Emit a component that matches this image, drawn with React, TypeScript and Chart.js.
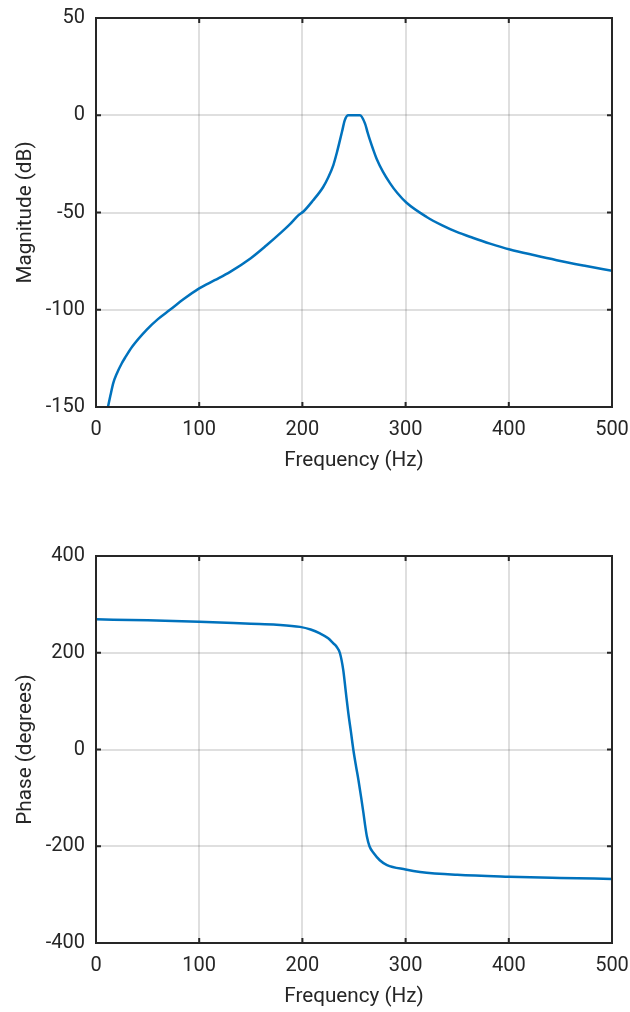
import React, { useEffect, useRef } from "react";
import { Chart, registerables } from "chart.js";

Chart.register(...registerables);

// Magnitude response (Hz, dB)
const magFreq = [11.6, 14, 16.8, 20, 25, 28, 35, 49, 60, 71.7, 85, 100, 115, 130, 150, 165, 180, 188, 196, 201, 210, 220, 225, 230, 233.5, 236.4, 238.8, 241, 244.5, 250, 255.8, 260.7, 263, 265.5, 268.5, 272, 278, 285, 292, 300.9, 320.4, 335, 349.5, 365, 381.8, 401, 425, 446.4, 475, 500];
const magDb = [-150, -144, -137.6, -133, -127.5, -124.8, -119, -110.3, -104.8, -100, -94.5, -89, -84.8, -80.5, -73.5, -67, -60, -56, -51.5, -49.5, -44, -37, -32, -25.6, -19, -12.8, -7.5, -2.6, 0, 0, 0, -4.3, -8.5, -12.8, -17.5, -22.5, -29, -35, -40, -45, -52.3, -56.5, -60, -63, -66, -69, -72, -74.5, -77.5, -80];

// Phase response (Hz, degrees)
const phFreq = [0, 50, 100, 150, 175, 197.7, 208, 217, 225, 230, 233, 236.4, 239.6, 242, 244.5, 247, 249.4, 252, 254.3, 257, 259.2, 261, 262.5, 265, 269, 275, 282, 300, 314, 350, 400, 450, 500];
const phDeg = [269, 267, 264, 260, 258, 253.5, 248, 240, 230, 219.4, 213, 199, 164, 120, 75, 37, -1, -35, -63, -100, -132, -160, -180, -200, -214, -229, -239, -248, -253, -259, -263, -265.5, -267.5];

const xTicks = [0, 100, 200, 300, 400, 500];
const magTicks = [-150, -100, -50, 0, 50];
const phTicks = [-400, -200, 0, 200, 400];

const TXT = "#262626";
const LINE = "#0072BD";

const boxPlugin = {
  id: "matlabBox",
  afterDatasetsDraw(chart: any) {
    const { ctx, chartArea: a, scales } = chart;
    ctx.save();
    ctx.strokeStyle = TXT;
    ctx.lineWidth = 2;
    const tl = 5;
    ctx.beginPath();
    scales.x.ticks.forEach((t: any) => {
      const px = scales.x.getPixelForValue(t.value);
      ctx.moveTo(px, a.bottom);
      ctx.lineTo(px, a.bottom - tl);
      ctx.moveTo(px, a.top);
      ctx.lineTo(px, a.top + tl);
    });
    scales.y.ticks.forEach((t: any) => {
      const py = scales.y.getPixelForValue(t.value);
      ctx.moveTo(a.left, py);
      ctx.lineTo(a.left + tl, py);
      ctx.moveTo(a.right, py);
      ctx.lineTo(a.right - tl, py);
    });
    ctx.stroke();
    ctx.strokeRect(a.left, a.top, a.right - a.left, a.bottom - a.top);
    ctx.restore();
  },
};

function makeConfig(xs: number[], ys: number[], yTicks: number[], yTitle: string, padBottom: number): any {
  const tickFont = { family: "Roboto", size: 20 };
  const titleFont = { family: "Roboto", size: 20.7 };
  const step = yTicks[1] - yTicks[0];
  return {
    type: "line",
    data: {
      datasets: [
        {
          data: xs.map((x, i) => ({ x, y: ys[i] })),
          borderColor: LINE,
          borderWidth: 2.5,
          pointRadius: 0,
          fill: false,
          cubicInterpolationMode: "monotone",
        },
      ],
    },
    options: {
      responsive: false,
      maintainAspectRatio: false,
      animation: false,
      layout: { padding: { left: 0, top: 18, right: 18, bottom: padBottom } },
      plugins: { legend: { display: false }, tooltip: { enabled: false } },
      scales: {
        x: {
          type: "linear",
          min: xTicks[0],
          max: xTicks[xTicks.length - 1],
          afterBuildTicks: (s: any) => {
            s.ticks = xTicks.map((v) => ({ value: v }));
          },
          ticks: { font: tickFont, color: TXT, padding: 11, maxRotation: 0, stepSize: 100 },
          grid: { color: "rgba(38,38,38,0.15)", lineWidth: 2, drawTicks: false },
          border: { display: false },
          title: { display: true, text: "Frequency (Hz)", font: titleFont, color: TXT, padding: { top: 0, bottom: 0 } },
          afterFit: (s: any) => {
            s.height = 66;
            s.paddingLeft = 0;
            s.paddingRight = 0;
          },
        },
        y: {
          type: "linear",
          min: yTicks[0],
          max: yTicks[yTicks.length - 1],
          afterBuildTicks: (s: any) => {
            s.ticks = yTicks.map((v) => ({ value: v }));
          },
          ticks: { font: tickFont, color: TXT, padding: 11, stepSize: step },
          grid: { color: "rgba(38,38,38,0.15)", lineWidth: 2, drawTicks: false },
          border: { display: false },
          title: { display: true, text: yTitle, font: titleFont, color: TXT, padding: { top: 13, bottom: 0 } },
          afterFit: (s: any) => {
            s.width = 96;
            s.paddingTop = 0;
            s.paddingBottom = 0;
          },
        },
      },
    },
    plugins: [boxPlugin],
  };
}

function Plot(props: { top: number; height: number; xs: number[]; ys: number[]; yTicks: number[]; yTitle: string; padBottom: number }) {
  const ref = useRef<HTMLCanvasElement>(null);
  useEffect(() => {
    if (!ref.current) return;
    const chart = new Chart(ref.current, makeConfig(props.xs, props.ys, props.yTicks, props.yTitle, props.padBottom));
    return () => chart.destroy();
  }, []);
  return (
    <canvas
      ref={ref}
      width={630}
      height={props.height}
      style={{ position: "absolute", left: 0, top: props.top, width: 630, height: props.height, display: "block" }}
    />
  );
}

export default function App() {
  return (
    <div style={{ position: "absolute", left: 0, top: 0, width: 630, height: 1012, overflow: "hidden", background: "#ffffff" }}>
      <Plot top={0} height={480} xs={magFreq} ys={magDb} yTicks={magTicks} yTitle="Magnitude (dB)" padBottom={7} />
      <Plot top={538} height={474} xs={phFreq} ys={phDeg} yTicks={phTicks} yTitle="Phase (degrees)" padBottom={3} />
    </div>
  );
}
